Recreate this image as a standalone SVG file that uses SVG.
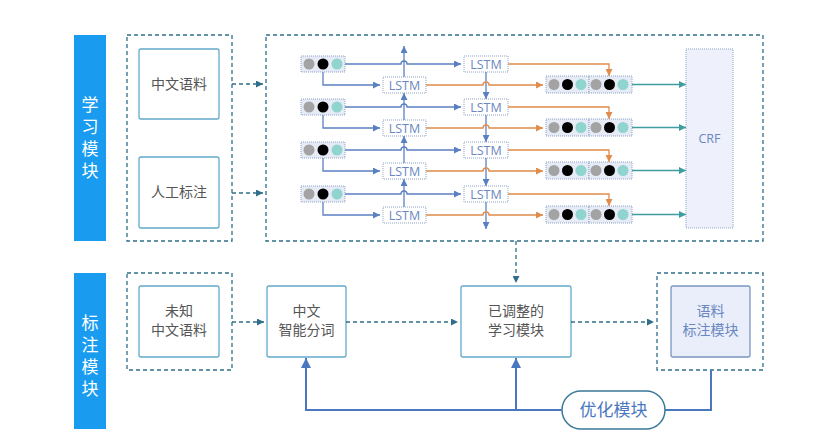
<svg xmlns="http://www.w3.org/2000/svg" width="828" height="444" viewBox="0 0 828 444">
<defs>
<style>
.bar{fill:#199cf0}
.bartxt{fill:#fff;font-family:"Noto Sans CJK SC","Noto Sans",sans-serif;font-size:17px;text-anchor:middle;writing-mode:vertical-rl;letter-spacing:5px}
.dash{fill:none;stroke:#2f6f8a;stroke-width:1.3;stroke-dasharray:4 3}
.box{fill:#fff;stroke:#62a9c9;stroke-width:1.3}
.txt{fill:#555;font-family:"Noto Sans CJK SC","Noto Sans",sans-serif;font-size:14px;text-anchor:middle}
.tok{fill:#e6ebf6;stroke:#8ea3c8;stroke-width:1;stroke-dasharray:1 1}
.lstm{fill:#fff;stroke:#8ea3c8;stroke-width:1;stroke-dasharray:1 1}
.ltxt{fill:#6a87c0;font-family:"Open Sans","Noto Sans",sans-serif;font-size:12.5px;text-anchor:middle}
.g{fill:#a3a3a3}.k{fill:#000}.t{fill:#8fd4cf}
.bl{fill:none;stroke:#5b80c2;stroke-width:1.3}
.or{fill:none;stroke:#e08c4c;stroke-width:1.3}
.te{fill:none;stroke:#3d9da0;stroke-width:1.3}
.dl{fill:none;stroke:#2f6f8a;stroke-width:1.3;stroke-dasharray:4 3}
.fb{fill:none;stroke:#4a78c0;stroke-width:2}
</style>
<marker id="ab" viewBox="0 0 10 10" refX="10" refY="5" markerWidth="7" markerHeight="7" orient="auto" markerUnits="userSpaceOnUse"><path d="M0,0L10,5L0,10z" fill="#5b80c2"/></marker>
<marker id="ao" viewBox="0 0 10 10" refX="10" refY="5" markerWidth="7" markerHeight="7" orient="auto" markerUnits="userSpaceOnUse"><path d="M0,0L10,5L0,10z" fill="#e08c4c"/></marker>
<marker id="at" viewBox="0 0 10 10" refX="10" refY="5" markerWidth="7" markerHeight="7" orient="auto" markerUnits="userSpaceOnUse"><path d="M0,0L10,5L0,10z" fill="#3d9da0"/></marker>
<marker id="ad" viewBox="0 0 10 10" refX="10" refY="5" markerWidth="7" markerHeight="7" orient="auto" markerUnits="userSpaceOnUse"><path d="M0,0L10,5L0,10z" fill="#2f6f8a"/></marker>
<marker id="af" viewBox="0 0 10 10" refX="10" refY="5" markerWidth="10" markerHeight="10" orient="auto" markerUnits="userSpaceOnUse"><path d="M0,0L10,5L0,10z" fill="#4a78c0"/></marker>
<g id="tokset"><rect class="tok" x="0" y="-8" width="44" height="16"/><circle class="g" cx="8" cy="0" r="5.5"/><circle class="k" cx="22" cy="0" r="5.5"/><circle class="t" cx="36" cy="0" r="5.5"/></g>
</defs>
<rect width="828" height="444" fill="#fff"/>

<g id="bar-learn"><rect class="bar" x="74" y="35" width="32" height="206"/>
<text class="bartxt" x="90" y="140">学习模块</text></g>
<g id="bar-tag"><rect class="bar" x="74" y="273" width="32" height="156"/>
<text class="bartxt" x="90" y="358">标注模块</text></g>

<g id="input-group"><rect class="dash" x="127" y="35" width="105" height="206"/></g>
<g id="corpus"><rect class="box" x="139" y="49" width="80" height="70" rx="2"/><text class="txt" x="179" y="89">中文语料</text></g>
<g id="annot"><rect class="box" x="139" y="157" width="80" height="71" rx="2"/><text class="txt" x="179" y="197">人工标注</text></g>

<g id="model-group"><rect class="dash" x="266" y="35" width="497" height="206"/></g>
<g id="crf"><rect x="686" y="49" width="47" height="179" fill="#eef0fb" stroke="#8ea3c8" stroke-width="1" stroke-dasharray="1 1"/><text class="ltxt" x="709.5" y="143" font-size="14">CRF</text></g>

<g id="tokens">
<use href="#tokset" x="301" y="64"/><use href="#tokset" x="301" y="107"/><use href="#tokset" x="301" y="150"/><use href="#tokset" x="301" y="194"/>
</g>
<g id="lstm-fwd">
<rect class="lstm" x="464" y="56" width="44" height="16"/><text class="ltxt" x="486" y="68.5">LSTM</text>
<rect class="lstm" x="464" y="99" width="44" height="16"/><text class="ltxt" x="486" y="111.5">LSTM</text>
<rect class="lstm" x="464" y="142" width="44" height="16"/><text class="ltxt" x="486" y="154.5">LSTM</text>
<rect class="lstm" x="464" y="186" width="44" height="16"/><text class="ltxt" x="486" y="198.5">LSTM</text>
</g>
<g id="lstm-bwd">
<rect class="lstm" x="383" y="77" width="43" height="16"/><text class="ltxt" x="404.5" y="89.5">LSTM</text>
<rect class="lstm" x="383" y="120" width="43" height="16"/><text class="ltxt" x="404.5" y="132.5">LSTM</text>
<rect class="lstm" x="383" y="163" width="43" height="16"/><text class="ltxt" x="404.5" y="175.5">LSTM</text>
<rect class="lstm" x="383" y="207" width="43" height="16"/><text class="ltxt" x="404.5" y="219.5">LSTM</text>
</g>
<g id="outputs">
<g><rect class="tok" x="546" y="76" width="43" height="17"/><rect class="tok" x="589" y="76" width="43" height="17"/><circle class="g" cx="554" cy="84.5" r="5.5"/><circle class="k" cx="567.5" cy="84.5" r="5.5"/><circle class="t" cx="581" cy="84.5" r="5.5"/><circle class="g" cx="596" cy="84.5" r="5.5"/><circle class="k" cx="609.5" cy="84.5" r="5.5"/><circle class="t" cx="623" cy="84.5" r="5.5"/></g>
<g><rect class="tok" x="546" y="119" width="43" height="17"/><rect class="tok" x="589" y="119" width="43" height="17"/><circle class="g" cx="554" cy="127.5" r="5.5"/><circle class="k" cx="567.5" cy="127.5" r="5.5"/><circle class="t" cx="581" cy="127.5" r="5.5"/><circle class="g" cx="596" cy="127.5" r="5.5"/><circle class="k" cx="609.5" cy="127.5" r="5.5"/><circle class="t" cx="623" cy="127.5" r="5.5"/></g>
<g><rect class="tok" x="546" y="162" width="43" height="17"/><rect class="tok" x="589" y="162" width="43" height="17"/><circle class="g" cx="554" cy="170.5" r="5.5"/><circle class="k" cx="567.5" cy="170.5" r="5.5"/><circle class="t" cx="581" cy="170.5" r="5.5"/><circle class="g" cx="596" cy="170.5" r="5.5"/><circle class="k" cx="609.5" cy="170.5" r="5.5"/><circle class="t" cx="623" cy="170.5" r="5.5"/></g>
<g><rect class="tok" x="546" y="206" width="43" height="17"/><rect class="tok" x="589" y="206" width="43" height="17"/><circle class="g" cx="554" cy="214.5" r="5.5"/><circle class="k" cx="567.5" cy="214.5" r="5.5"/><circle class="t" cx="581" cy="214.5" r="5.5"/><circle class="g" cx="596" cy="214.5" r="5.5"/><circle class="k" cx="609.5" cy="214.5" r="5.5"/><circle class="t" cx="623" cy="214.5" r="5.5"/></g>
</g>

<g id="unknown-group"><rect class="dash" x="127" y="273" width="105" height="97"/></g>
<g id="unknown"><rect class="box" x="139" y="286" width="80" height="71" rx="2"/><text class="txt" x="179" y="316">未知</text><text class="txt" x="179" y="335">中文语料</text></g>
<g id="segment"><rect class="box" x="267" y="286" width="79" height="71" rx="2"/><text class="txt" x="306.5" y="316">中文</text><text class="txt" x="306.5" y="335">智能分词</text></g>
<g id="adjusted"><rect class="box" x="461" y="286" width="110" height="71" rx="2"/><text class="txt" x="516" y="316">已调整的</text><text class="txt" x="516" y="335">学习模块</text></g>
<g id="tagmod-group"><rect class="dash" x="657" y="273" width="106" height="97"/></g>
<g id="tagmod"><rect x="671" y="286" width="79" height="71" rx="2" fill="#e9eefa" stroke="#7b96c0" stroke-width="1.3"/><text class="txt" x="710.5" y="316" style="fill:#6a87c0">语料</text><text class="txt" x="710.5" y="335" style="fill:#6a87c0">标注模块</text></g>
<g id="optimize"><rect x="562" y="391" width="103" height="38" rx="19" fill="#fff" stroke="#3a7a98" stroke-width="1.5"/><text x="613.5" y="416" text-anchor="middle" font-family="'Noto Sans CJK SC','Noto Sans',sans-serif" font-size="17" fill="#4a78c0">优化模块</text></g>

<g id="connectors">
<path class="dl" d="M232,84H263" marker-end="url(#ad)"/>
<path class="dl" d="M232,193H263" marker-end="url(#ad)"/>
<path class="dl" d="M516,241V283" marker-end="url(#ad)"/>
<path class="dl" d="M232,322H264" marker-end="url(#ad)"/>
<path class="dl" d="M346,322H458" marker-end="url(#ad)"/>
<path class="dl" d="M571,322H654" marker-end="url(#ad)"/>

<path class="bl" d="M345,64H401a3,3 0 0 1 6,0H461" marker-end="url(#ab)"/>
<path class="bl" d="M345,107H401a3,3 0 0 1 6,0H461" marker-end="url(#ab)"/>
<path class="bl" d="M345,150H401a3,3 0 0 1 6,0H461" marker-end="url(#ab)"/>
<path class="bl" d="M345,194H401a3,3 0 0 1 6,0H461" marker-end="url(#ab)"/>
<path class="bl" d="M323,72V85H380" marker-end="url(#ab)"/>
<path class="bl" d="M323,115V128H380" marker-end="url(#ab)"/>
<path class="bl" d="M323,158V171H380" marker-end="url(#ab)"/>
<path class="bl" d="M323,202V215H380" marker-end="url(#ab)"/>
<path class="bl" d="M404,77V46" marker-end="url(#ab)"/>
<path class="bl" d="M404,120V93" marker-end="url(#ab)"/>
<path class="bl" d="M404,163V136" marker-end="url(#ab)"/>
<path class="bl" d="M404,207V179" marker-end="url(#ab)"/>
<path class="bl" d="M486,72V99" marker-end="url(#ab)"/>
<path class="bl" d="M486,115V142" marker-end="url(#ab)"/>
<path class="bl" d="M486,158V186" marker-end="url(#ab)"/>
<path class="bl" d="M486,202V229" marker-end="url(#ab)"/>

<path class="or" d="M426,85H483a3,3 0 0 1 6,0H543" marker-end="url(#ao)"/>
<path class="or" d="M426,128H483a3,3 0 0 1 6,0H543" marker-end="url(#ao)"/>
<path class="or" d="M426,171H483a3,3 0 0 1 6,0H543" marker-end="url(#ao)"/>
<path class="or" d="M426,215H483a3,3 0 0 1 6,0H543" marker-end="url(#ao)"/>
<path class="or" d="M508,64H609V76" marker-end="url(#ao)"/>
<path class="or" d="M508,107H609V119" marker-end="url(#ao)"/>
<path class="or" d="M508,150H609V162" marker-end="url(#ao)"/>
<path class="or" d="M508,194H609V206" marker-end="url(#ao)"/>

<path class="te" d="M632,84.5H686" marker-end="url(#at)"/>
<path class="te" d="M632,127.5H686" marker-end="url(#at)"/>
<path class="te" d="M632,170.5H686" marker-end="url(#at)"/>
<path class="te" d="M632,214.5H686" marker-end="url(#at)"/>

<path class="fb" d="M711,370V410H665"/>
<path class="fb" d="M562,410H306V358" marker-end="url(#af)"/>
<path class="fb" d="M516,410V358" marker-end="url(#af)"/>
</g>
</svg>
